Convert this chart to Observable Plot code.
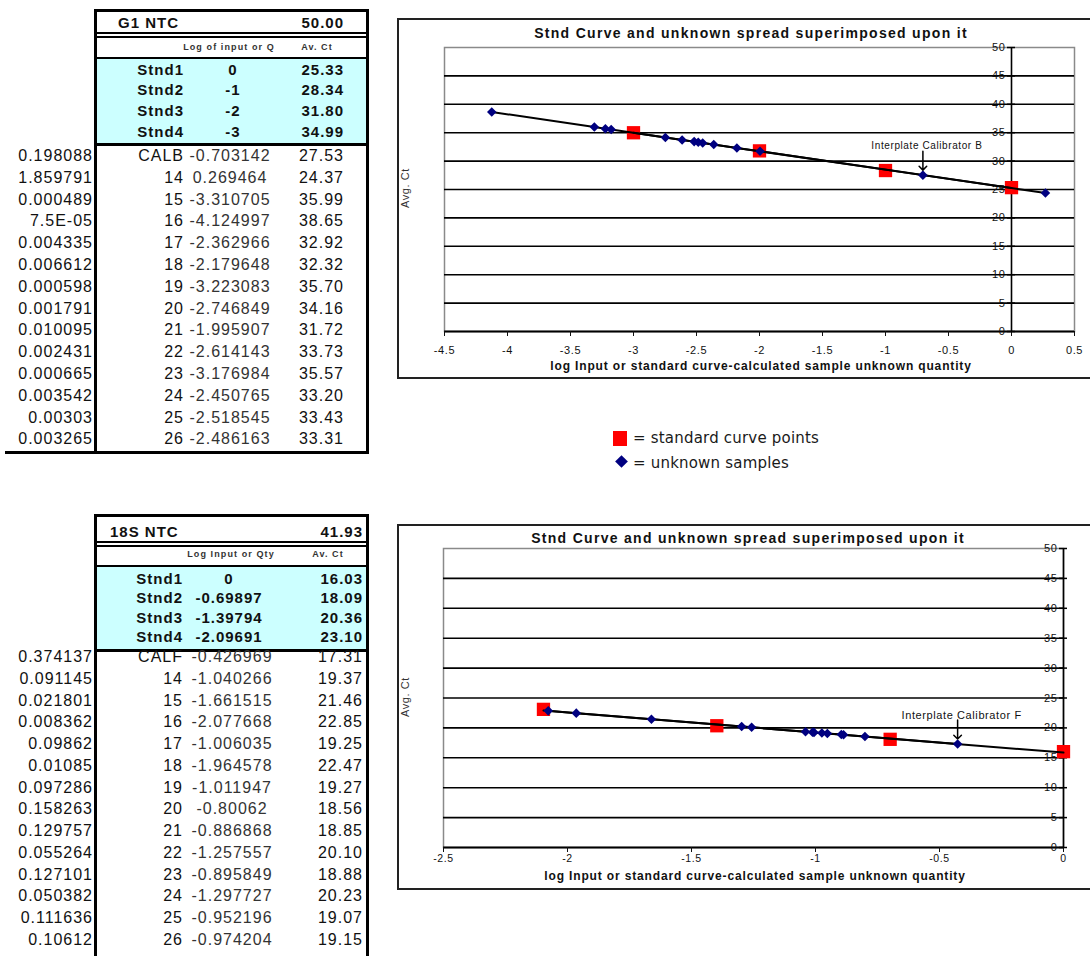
<!DOCTYPE html>
<html><head><meta charset="utf-8">
<script src="https://cdn.jsdelivr.net/npm/d3@7"></script>
<script src="https://cdn.jsdelivr.net/npm/@observablehq/plot@0.6"></script>
<style>
body{margin:0;background:#fff;}
#page{position:relative;width:1090px;height:956px;overflow:hidden;background:#fff;font-family:"Liberation Sans",Arial,sans-serif;color:#111;}
.t{position:absolute;white-space:nowrap;line-height:1;}
.r{position:absolute;}
.box{position:absolute;border:2px solid #222;box-sizing:border-box;}
</style></head><body><div id="page"></div>
<script>
// ---------------- DATA ----------------
const g1Header = ["G1 NTC", "50.00"];
const g1ColHeads = ["Log of input or Q", "Av. Ct"];
const g1StdNames = ["Stnd1", "Stnd2", "Stnd3", "Stnd4"];
const g1StdLog = ["0", "-1", "-2", "-3"];
const g1StdCt = ["25.33", "28.34", "31.80", "34.99"];
const g1SampleQty = ["0.198088","1.859791","0.000489","7.5E-05","0.004335","0.006612","0.000598","0.001791","0.010095","0.002431","0.000665","0.003542","0.00303","0.003265"];
const g1SampleIds = ["CALB","14","15","16","17","18","19","20","21","22","23","24","25","26"];
const g1SampleLog = ["-0.703142","0.269464","-3.310705","-4.124997","-2.362966","-2.179648","-3.223083","-2.746849","-1.995907","-2.614143","-3.176984","-2.450765","-2.518545","-2.486163"];
const g1SampleCt = ["27.53","24.37","35.99","38.65","32.92","32.32","35.70","34.16","31.72","33.73","35.57","33.20","33.43","33.31"];

const s18Header = ["18S NTC", "41.93"];
const s18ColHeads = ["Log Input or Qty", "Av. Ct"];
const s18StdNames = ["Stnd1", "Stnd2", "Stnd3", "Stnd4"];
const s18StdLog = ["0", "-0.69897", "-1.39794", "-2.09691"];
const s18StdCt = ["16.03", "18.09", "20.36", "23.10"];
const s18SampleQty = ["0.374137","0.091145","0.021801","0.008362","0.09862","0.01085","0.097286","0.158263","0.129757","0.055264","0.127101","0.050382","0.111636","0.10612"];
const s18SampleIds = ["CALF","14","15","16","17","18","19","20","21","22","23","24","25","26"];
const s18SampleLog = ["-0.426969","-1.040266","-1.661515","-2.077668","-1.006035","-1.964578","-1.011947","-0.80062","-0.886868","-1.257557","-0.895849","-1.297727","-0.952196","-0.974204"];
const s18SampleCt = ["17.31","19.37","21.46","22.85","19.25","22.47","19.27","18.56","18.85","20.10","18.88","20.23","19.07","19.15"];

const chartTitle = "Stnd Curve and unknown spread superimposed upon it";
const xAxisTitle = "log Input or standard curve-calculated sample unknown quantity";
const yAxisTitle = "Avg. Ct";
const yTickValues = [0,5,10,15,20,25,30,35,40,45,50];
const gridValues = [5,10,15,20,25,30,35,40,45];
const g1XTicks = [-4.5,-4,-3.5,-3,-2.5,-2,-1.5,-1,-0.5,0,0.5];
const s18XTicks = [-2.5,-2,-1.5,-1,-0.5,0];
const g1Calibrator = ["CALB", "Interplate Calibrator B"];
const s18Calibrator = ["CALF", "Interplate Calibrator F"];
const legendLabels = ["= standard curve points", "= unknown samples"];

// ---------------- HELPERS ----------------
const page = document.getElementById("page");
function text(str, x, y, o = {}) {
  const d = document.createElement("div");
  d.className = "t"; d.textContent = str;
  const s = d.style, ls = o.ls ?? 1;
  s.fontSize = (o.size || 16) + "px";
  s.fontWeight = o.weight || "normal";
  s.letterSpacing = ls + "px";
  s.color = o.color || "#111";
  if (o.family) s.fontFamily = o.family;
  s.top = y + "px";
  let tr = "translateY(-50%)";
  if (o.anchor === "end") { s.right = (1090 - x - ls) + "px"; }
  else if (o.anchor === "middle") { s.left = x + "px"; tr = "translate(-50%,-50%)"; }
  else s.left = x + "px";
  if (o.rotate) tr += " rotate(" + o.rotate + "deg)";
  s.transform = tr;
  page.appendChild(d);
  return d;
}
function rect(x, y, w, h, c = "#000") {
  const d = document.createElement("div");
  d.className = "r";
  Object.assign(d.style, {left: x + "px", top: y + "px", width: w + "px", height: h + "px", background: c});
  page.appendChild(d);
}

// ---------------- TABLES ----------------
function drawTable(t) {
  const L = t.layout;
  rect(94, L.top, 3, L.end - L.top);           // left border
  rect(366, L.top + 1, 3, L.end - L.top - 1);  // right border
  rect(94, L.top, 275, 3);                     // top
  rect(97, L.hdrBottom, 269, 2);
  rect(97, L.colTop, 269, 2);
  rect(97, L.colBottom, 269, 2);
  rect(97, L.colBottom + 2, 269, L.cyanBottom - L.colBottom - 2, "#CCFFFF");
  rect(97, L.cyanBottom, 269, 3);
  if (L.bottom) rect(5, L.bottom, 364, 3);

  text(t.header[0], L.hdrX, L.hdrY, {weight: "bold", size: 15});
  text(t.header[1], L.ctRight, L.hdrY, {weight: "bold", size: 15, anchor: "end"});
  text(t.colHeads[0], L.colLogX, L.colY, {size: 9, weight: "bold", ls: 1.1, anchor: "middle", color: "#333"});
  text(t.colHeads[1], L.colCtX, L.colY, {size: 9, weight: "bold", ls: 1.1, anchor: "middle", color: "#333"});

  t.stdNames.forEach((n, i) => {
    const y = L.stdY[i];
    text(n, L.idRight, y, {weight: "bold", size: 15, anchor: "end"});
    text(t.stdLog[i], L.stdLogX, y, {weight: "bold", size: 15, anchor: "middle"});
    text(t.stdCt[i], L.ctRight, y, {weight: "bold", size: 15, anchor: "end"});
  });
  t.ids.forEach((id, i) => {
    const y = L.rowY0 + L.rowStep * i;
    text(t.qty[i], 92, y, {anchor: "end"});
    text(id, L.idRight, y, {anchor: "end"});
    text(t.log[i], L.logX, y, {anchor: "middle", color: "#333"});
    text(t.ct[i], L.ctRight, y, {anchor: "end"});
  });
}

drawTable({
  header: g1Header, colHeads: g1ColHeads, stdNames: g1StdNames, stdLog: g1StdLog, stdCt: g1StdCt,
  qty: g1SampleQty, ids: g1SampleIds, log: g1SampleLog, ct: g1SampleCt,
  layout: {top: 9, end: 454, hdrBottom: 32, colTop: 36, colBottom: 57, cyanBottom: 143, bottom: 451,
    hdrX: 118, hdrY: 22, colY: 47, colLogX: 229, colCtX: 317, ctRight: 343, idRight: 183,
    stdY: [69, 89, 110, 131], stdLogX: 233, logX: 230, rowY0: 156, rowStep: 21.8}
});
drawTable({
  header: s18Header, colHeads: s18ColHeads, stdNames: s18StdNames, stdLog: s18StdLog, stdCt: s18StdCt,
  qty: s18SampleQty, ids: s18SampleIds, log: s18SampleLog, ct: s18SampleCt,
  layout: {top: 514, end: 956, hdrBottom: 541, colTop: 545, colBottom: 565, cyanBottom: 649, bottom: null,
    hdrX: 110, hdrY: 531, colY: 554, colLogX: 231, colCtX: 328, ctRight: 362, idRight: 182,
    stdY: [578, 597, 617, 636], stdLogX: 229, logX: 232, rowY0: 657, rowStep: 21.75}
});

// ---------------- LEGEND ----------------
rect(613, 431, 14, 15, "#ff0000");
(function(){
  const d = document.createElement("div");
  Object.assign(d.style, {position: "absolute", left: "617px", top: "457px", width: "9px", height: "9px",
    background: "#000080", transform: "rotate(45deg)"});
  page.appendChild(d);
})();
text(legendLabels[0], 633, 438, {size: 15, ls: 0.2, family: "'DejaVu Sans', sans-serif", color: "#1a1a1a"});
text(legendLabels[1], 633, 463, {size: 15, ls: 0.2, family: "'DejaVu Sans', sans-serif", color: "#1a1a1a"});

// ---------------- CHARTS ----------------
function drawChart(c) {
  const box = document.createElement("div");
  box.className = "box";
  Object.assign(box.style, {left: c.left + "px", top: c.top + "px", width: "720px", height: c.height + "px"});
  page.appendChild(box);

  const std = c.stdLog.map((v, i) => ({x: +v, y: +c.stdCt[i]}));
  const unk = c.ids.map((id, i) => ({id, x: +c.log[i], y: +c.ct[i]})).sort((a, b) => a.x - b.x);
  const calib = unk.filter(d => d.id === c.calib[0]).map(d => ({...d, label: c.calib[1]}));

  const svg = Plot.plot({
    width: c.width, height: c.height,
    marginLeft: c.m[0], marginRight: c.m[1], marginTop: c.m[2], marginBottom: c.m[3],
    x: {domain: c.xDomain},
    y: {domain: [0, 50], axis: null},
    style: {fontFamily: "'Liberation Sans', Arial, sans-serif", fontSize: "11px", background: "transparent", overflow: "visible", color: "#111"},
    marks: [
      Plot.frame({stroke: "#8a8a8a", strokeWidth: 1.5}),
      Plot.ruleY(gridValues, {stroke: "#000", strokeWidth: 1.6}),
      Plot.ruleY([0], {stroke: "#000", strokeWidth: 2}),
      Plot.axisX({ticks: c.xTicks, tickFormat: d => String(d), tickSize: 5, tickPadding: c.tickPad, label: null, fontSize: c.tickSize}),
      Plot.ruleX([0], {y1: 0, y2: 50, stroke: "#000", strokeWidth: 1.6}),
      Plot.ruleY(yTickValues, {x1: 0, x2: 0, insetLeft: -4, insetRight: -4, stroke: "#000", strokeWidth: 1.5}),
      Plot.text(yTickValues, {x: 0, y: d => d, text: d => String(d), textAnchor: "end", dx: -6, fontSize: 11}),
      Plot.dot(std, {x: "x", y: "y", symbol: "square", fill: "#ff0000", r: 7.5}),
      Plot.linearRegressionY(std, {x: "x", y: "y", stroke: "#000", strokeWidth: 2, ci: 0}),
      Plot.line(unk, {x: "x", y: "y", stroke: "#000", strokeWidth: 2}),
      Plot.dot(unk, {x: "x", y: "y", symbol: "diamond2", fill: "#000080", r: 4.3}),
      Plot.vector(calib, {x: "x", y: "y", length: 19, rotate: 180, anchor: "end", dy: -5, stroke: "#000", strokeWidth: 1.5}),
      Plot.text(calib, {x: "x", y: "y", text: "label", dy: -29, dx: 4, fontSize: c.annSize})
    ]
  });
  svg.style.position = "absolute";
  svg.style.left = c.left + "px";
  svg.style.top = c.top + "px";
  svg.style.letterSpacing = "0.6px";
  page.appendChild(svg);

  text(chartTitle, c.titleX, c.titleY, {size: 14, weight: "bold", ls: 1.3, anchor: "middle"});
  text(xAxisTitle, c.xTitleX, c.xTitleY, {size: 12, weight: "bold", ls: 0.85, anchor: "middle"});
  text(yAxisTitle, 405, c.yTitleY, {size: 11, ls: 0.6, anchor: "middle", rotate: -90, color: "#333"});
}

drawChart({
  left: 397, top: 18, width: 692, height: 361, m: [47, 15, 29, 48],
  xDomain: [-4.5, 0.5], xTicks: g1XTicks, tickPad: 10, tickSize: 11,
  stdLog: g1StdLog, stdCt: g1StdCt, ids: g1SampleIds, log: g1SampleLog, ct: g1SampleCt,
  calib: g1Calibrator, annSize: 10,
  titleX: 751, titleY: 33, xTitleX: 761, xTitleY: 366, yTitleY: 188
});
drawChart({
  left: 397, top: 524, width: 692, height: 366, m: [46, 26, 24, 43],
  xDomain: [-2.5, 0], xTicks: s18XTicks, tickPad: 2, tickSize: 10.5,
  stdLog: s18StdLog, stdCt: s18StdCt, ids: s18SampleIds, log: s18SampleLog, ct: s18SampleCt,
  calib: s18Calibrator, annSize: 11,
  titleX: 748, titleY: 538, xTitleX: 755, xTitleY: 876, yTitleY: 697
});
</script>
</body></html>
